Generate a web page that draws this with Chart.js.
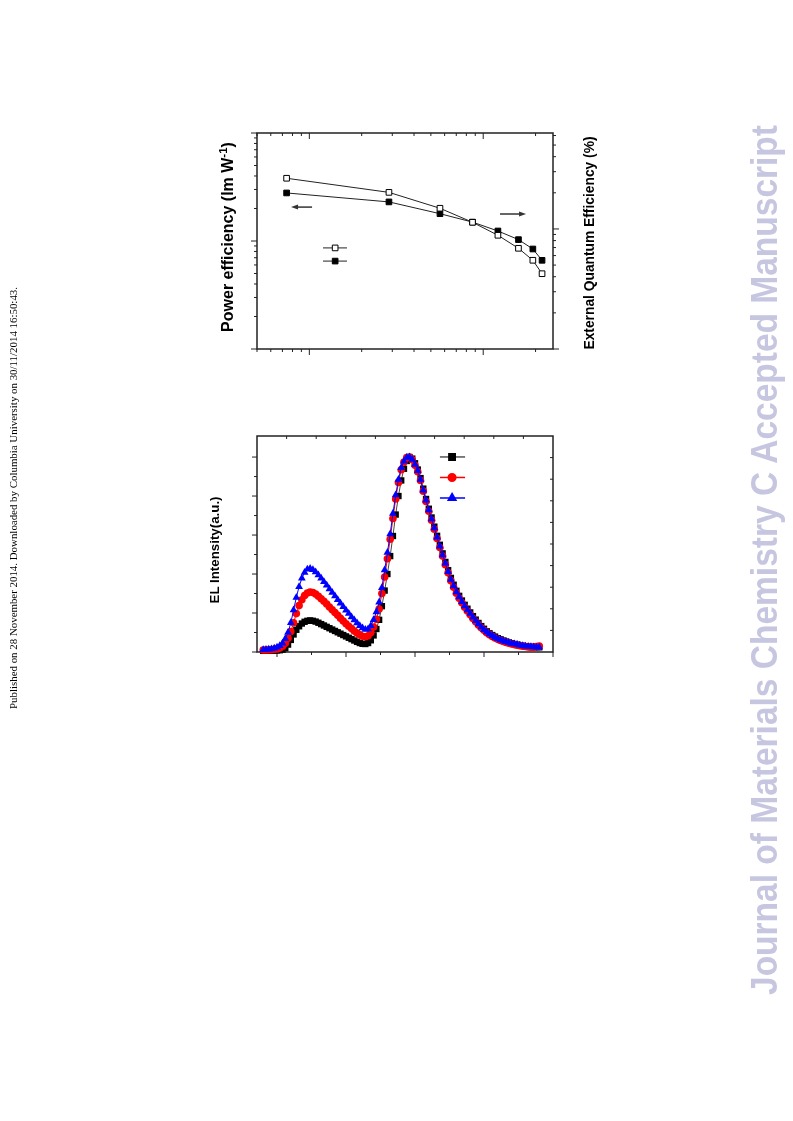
<!DOCTYPE html>
<html>
<head>
<meta charset="utf-8">
<script src="https://cdn.jsdelivr.net/npm/chart.js@4.4.1/dist/chart.umd.min.js"></script>
<style>
  html, body { margin: 0; padding: 0; background: #fff; }
  #page { position: relative; width: 793px; height: 1121px; overflow: hidden; background: #fff; }
  canvas { position: absolute; }
  #peChart { left: 200px; top: 110px; }
  #elChart { left: 200px; top: 410px; }
  svg { position: absolute; left: 0; top: 0; }
</style>
</head>
<body>
<div id="page">
  <canvas id="peChart" width="400" height="270"></canvas>
  <canvas id="elChart" width="400" height="270"></canvas>
  <svg width="793" height="1121">
    <text transform="translate(17,498) rotate(-90)" text-anchor="middle" font-family="Liberation Serif" font-size="10.5" fill="#000" textLength="422" lengthAdjust="spacingAndGlyphs">Published on 28 November 2014. Downloaded by Columbia University on 30/11/2014 16:50:43.</text>
    <text transform="translate(777,560) rotate(-90)" text-anchor="middle" font-family="Liberation Sans" font-weight="bold" font-size="36" fill="#c6c6e0" textLength="870" lengthAdjust="spacingAndGlyphs">Journal of Materials Chemistry C Accepted Manuscript</text>
    <text transform="translate(233,237) rotate(-90)" text-anchor="middle" font-family="Liberation Sans" font-weight="bold" font-size="16" fill="#000">Power efficiency (lm W<tspan dy="-6" font-size="11.5">-1</tspan><tspan dy="6">)</tspan></text>
    <text transform="translate(594,243) rotate(-90)" text-anchor="middle" font-family="Liberation Sans" font-weight="bold" font-size="14" fill="#000" textLength="213" lengthAdjust="spacingAndGlyphs">External Quantum Efficiency (%)</text>
    <text transform="translate(219,550) rotate(-90)" text-anchor="middle" font-family="Liberation Sans" font-weight="bold" font-size="13" fill="#000" textLength="107" lengthAdjust="spacingAndGlyphs">EL Intensity(a.u.)</text>
  </svg>
</div>
<script>
// ---- top chart: power efficiency / EQE (log-log) ----
const currentDensity = [7.4, 28.7, 56.4, 86.8, 121.5, 159.5, 193, 218];
const powerEff = [38.1, 28.2, 20.1, 14.9, 11.3, 8.56, 6.63, 4.98];
const eqe = [19.95, 16.8, 13.4, 11.4, 9.62, 8.15, 6.81, 5.48];

// ---- bottom chart: EL spectra ----
const wavelength = [
  380, 384, 388, 392, 396, 400, 404, 408, 412, 416,
  420, 424, 428, 432, 436, 440, 444, 448, 452, 456,
  460, 464, 468, 472, 476, 480, 484, 488, 492, 496,
  500, 504, 508, 512, 516, 520, 524, 528, 532, 536,
  540, 544, 548, 552, 556, 560, 564, 568, 572, 576,
  580, 584, 588, 592, 596, 600, 604, 608, 612, 616,
  620, 624, 628, 632, 636, 640, 644, 648, 652, 656,
  660, 664, 668, 672, 676, 680, 684, 688, 692, 696,
  700, 704, 708, 712, 716, 720, 724, 728, 732, 736,
  740, 744, 748, 752, 756, 760, 764, 768, 772, 776,
  780
];
const elBlack = [
  0.006, 0.006, 0.006, 0.007, 0.007, 0.008, 0.009, 0.012, 0.020, 0.038,
  0.062, 0.090, 0.114, 0.132, 0.146, 0.155, 0.160, 0.162, 0.160, 0.156,
  0.150, 0.143, 0.136, 0.129, 0.122, 0.115, 0.108, 0.101, 0.094, 0.087,
  0.080, 0.073, 0.066, 0.059, 0.052, 0.046, 0.042, 0.041, 0.046, 0.060,
  0.085, 0.118, 0.165, 0.235, 0.315, 0.400, 0.492, 0.595, 0.705, 0.800,
  0.880, 0.940, 0.980, 1.000, 0.992, 0.968, 0.936, 0.892, 0.838, 0.785,
  0.735, 0.690, 0.643, 0.596, 0.550, 0.506, 0.462, 0.420, 0.380, 0.345,
  0.314, 0.288, 0.264, 0.242, 0.222, 0.203, 0.184, 0.166, 0.149, 0.133,
  0.119, 0.106, 0.096, 0.087, 0.079, 0.071, 0.065, 0.059, 0.054, 0.049,
  0.045, 0.041, 0.038, 0.035, 0.032, 0.030, 0.028, 0.026, 0.025, 0.025,
  0.024
];
const elRed = [
  0.010, 0.010, 0.011, 0.012, 0.014, 0.016, 0.020, 0.030, 0.045, 0.070,
  0.105, 0.150, 0.197, 0.238, 0.268, 0.290, 0.303, 0.308, 0.305, 0.297,
  0.286, 0.273, 0.260, 0.246, 0.231, 0.217, 0.202, 0.188, 0.173, 0.159,
  0.145, 0.132, 0.120, 0.108, 0.097, 0.088, 0.081, 0.078, 0.083, 0.100,
  0.128, 0.168, 0.220, 0.300, 0.385, 0.478, 0.578, 0.685, 0.785, 0.870,
  0.935, 0.975, 0.997, 1.000, 0.986, 0.958, 0.925, 0.880, 0.825, 0.772,
  0.722, 0.676, 0.630, 0.582, 0.536, 0.492, 0.448, 0.406, 0.366, 0.332,
  0.302, 0.276, 0.252, 0.230, 0.210, 0.191, 0.172, 0.155, 0.139, 0.124,
  0.111, 0.099, 0.089, 0.080, 0.072, 0.065, 0.059, 0.054, 0.049, 0.045,
  0.041, 0.038, 0.035, 0.032, 0.030, 0.028, 0.026, 0.025, 0.025, 0.028,
  0.030
];
const elBlue = [
  0.012, 0.013, 0.014, 0.016, 0.019, 0.024, 0.032, 0.045, 0.068, 0.100,
  0.150, 0.215, 0.280, 0.335, 0.378, 0.408, 0.424, 0.428, 0.422, 0.410,
  0.395, 0.378, 0.360, 0.342, 0.323, 0.305, 0.287, 0.268, 0.250, 0.232,
  0.214, 0.197, 0.180, 0.164, 0.149, 0.135, 0.123, 0.115, 0.118, 0.135,
  0.165, 0.205, 0.255, 0.330, 0.420, 0.510, 0.605, 0.710, 0.805, 0.885,
  0.945, 0.978, 0.998, 1.000, 0.988, 0.962, 0.930, 0.885, 0.830, 0.778,
  0.728, 0.682, 0.636, 0.588, 0.542, 0.498, 0.455, 0.412, 0.372, 0.338,
  0.308, 0.282, 0.258, 0.236, 0.216, 0.197, 0.178, 0.160, 0.143, 0.128,
  0.114, 0.102, 0.092, 0.083, 0.075, 0.068, 0.062, 0.057, 0.052, 0.048,
  0.044, 0.041, 0.038, 0.035, 0.032, 0.030, 0.028, 0.027, 0.026, 0.025,
  0.024
];

// tick values for the spectrum axes
const elXMajor = [400, 500, 600, 700, 800];
const elXMinor = [450, 550, 650, 750];
const elYMajor = [0, 0.2, 0.4, 0.6, 0.8, 1.0];
const elYMinor = [0.1, 0.3, 0.5, 0.7, 0.9];
const tenSteps = [1, 2, 3, 4, 5, 6, 7, 8, 9];

function toPoints(xs, ys) {
    return xs.map((x, i) => ({ x: x, y: ys[i] }));
}

function tick(ctx, x, y, dx, dy) {
    ctx.beginPath();
    ctx.moveTo(x, y);
    ctx.lineTo(x + dx, y + dy);
    ctx.stroke();
}

// 1..9 x 10^n inside [min, max]
function logTicks(min, max) {
    const out = [];
    for (let d = Math.floor(Math.log10(min)); d <= Math.ceil(Math.log10(max)); d++) {
        for (let m = 1; m <= 9; m++) {
            const v = m * Math.pow(10, d);
            if (v >= min * 0.999 && v <= max * 1.001) out.push({ v: v, major: m === 1 });
        }
    }
    return out;
}

function marker(ctx, style, x, y, r, fill, stroke) {
    ctx.fillStyle = fill;
    ctx.strokeStyle = stroke;
    Chart.helpers.drawPoint(ctx, { pointStyle: style, radius: r, borderWidth: 1, rotation: 0 }, x, y);
}

function arrow(ctx, x1, y1, x2, y2) {
    // head at (x2, y2)
    const dir = Math.sign(x2 - x1);
    ctx.beginPath();
    ctx.moveTo(x1, y1);
    ctx.lineTo(x2 - dir * 6, y2);
    ctx.stroke();
    ctx.beginPath();
    ctx.moveTo(x2, y2);
    ctx.lineTo(x2 - dir * 7, y2 - 2.5);
    ctx.lineTo(x2 - dir * 7, y2 + 2.5);
    ctx.closePath();
    ctx.fill();
}

// frame, ticks, legend and arrows of the top chart
const peDecor = {
    id: 'peDecor',
    beforeDatasetsDraw(chart) {
        const { ctx, chartArea: a, scales } = chart;
        ctx.save();
        ctx.strokeStyle = '#222';
        ctx.lineWidth = 1.5;
        ctx.strokeRect(a.left, a.top, a.width, a.height);
        ctx.lineWidth = 1;
        logTicks(scales.x.min, scales.x.max).forEach(t => {
            const px = scales.x.getPixelForValue(t.v);
            const len = t.major ? 6 : 3;
            tick(ctx, px, a.bottom, 0, len);
            tick(ctx, px, a.top, 0, len);
        });
        logTicks(scales.y.min, scales.y.max).forEach(t => {
            tick(ctx, a.left, scales.y.getPixelForValue(t.v), t.major ? -6 : -3, 0);
        });
        logTicks(scales.y1.min, scales.y1.max).forEach(t => {
            tick(ctx, a.right, scales.y1.getPixelForValue(t.v), t.major ? 6 : 3, 0);
        });
        ctx.restore();
    },
    afterDatasetsDraw(chart) {
        const { ctx, chartArea: a } = chart;
        const fx = f => a.left + f * a.width;
        const fy = f => a.top + f * a.height;
        ctx.save();
        ctx.strokeStyle = '#222';
        ctx.fillStyle = '#222';
        ctx.lineWidth = 1;
        // legend (labels were blank in the source figure)
        [[0.532, '#fff'], [0.593, '#000']].forEach(([f, fill]) => {
            ctx.strokeStyle = '#222';
            tick(ctx, fx(0.223), fy(f), fx(0.304) - fx(0.223), 0);
            marker(ctx, 'rect', fx(0.264), fy(f), 4, fill, '#000');
        });
        ctx.strokeStyle = '#333';
        ctx.fillStyle = '#333';
        ctx.lineWidth = 1.5;
        arrow(ctx, fx(0.186), fy(0.343), fx(0.115), fy(0.343));
        arrow(ctx, fx(0.821), fy(0.375), fx(0.909), fy(0.375));
        ctx.restore();
    }
};

// frame, ticks and legend of the spectrum chart
const elDecor = {
    id: 'elDecor',
    beforeDatasetsDraw(chart) {
        const { ctx, chartArea: a, scales } = chart;
        ctx.save();
        ctx.strokeStyle = '#222';
        ctx.lineWidth = 1.5;
        ctx.strokeRect(a.left, a.top, a.width, a.height);
        ctx.lineWidth = 1;
        elXMajor.forEach(v => tick(ctx, scales.x.getPixelForValue(v), a.bottom, 0, 5));
        elXMinor.forEach(v => tick(ctx, scales.x.getPixelForValue(v), a.bottom, 0, 3));
        elYMajor.forEach(v => tick(ctx, a.left, scales.y.getPixelForValue(v), -5, 0));
        elYMinor.forEach(v => tick(ctx, a.left, scales.y.getPixelForValue(v), -3, 0));
        tenSteps.forEach(v => {
            tick(ctx, scales.x2.getPixelForValue(v), a.top, 0, 3);
            tick(ctx, a.right, scales.y2.getPixelForValue(v), -3, 0);
        });
        ctx.restore();
    },
    afterDatasetsDraw(chart) {
        const { ctx, chartArea: a } = chart;
        const fx = f => a.left + f * a.width;
        const fy = f => a.top + f * a.height;
        const entries = [
            [0.097, '#555', 'rect', '#000', 4.5],
            [0.192, '#ff0000', 'circle', '#ff0000', 3.8],
            [0.287, '#0000ff', 'triangle', '#0000ff', 4.5]
        ];
        ctx.save();
        ctx.lineWidth = 1.5;
        entries.forEach(([f, line, style, col, r]) => {
            ctx.strokeStyle = line;
            tick(ctx, fx(0.618), fy(f), fx(0.703) - fx(0.618), 0);
            marker(ctx, style, fx(0.659), fy(f), r, col, col);
        });
        ctx.restore();
    }
};

const peConfig = {
    type: 'scatter',
    data: {
        datasets: [{
            label: 'Power efficiency',
            data: toPoints(currentDensity, powerEff),
            yAxisID: 'y',
            showLine: true,
            borderColor: '#222',
            borderWidth: 1,
            pointStyle: 'rect',
            pointRadius: 4,
            pointBackgroundColor: '#fff',
            pointBorderColor: '#000',
            pointBorderWidth: 1,
            clip: false
        }, {
            label: 'EQE',
            data: toPoints(currentDensity, eqe),
            yAxisID: 'y1',
            showLine: true,
            borderColor: '#222',
            borderWidth: 1,
            pointStyle: 'rect',
            pointRadius: 4,
            pointBackgroundColor: '#000',
            pointBorderColor: '#000',
            pointBorderWidth: 1,
            clip: false
        }]
    },
    options: {
        responsive: false,
        animation: false,
        events: [],
        layout: { padding: { left: 57, right: 47, top: 23, bottom: 31 } },
        plugins: { legend: { display: false }, tooltip: { enabled: false } },
        scales: {
            x: { type: 'logarithmic', min: 5, max: 252, display: false },
            y: { type: 'logarithmic', min: 1, max: 100, display: false },
            y1: { type: 'logarithmic', min: 1, max: 63, display: false, position: 'right' }
        }
    },
    plugins: [peDecor]
};

const elConfig = {
    type: 'scatter',
    data: {
        datasets: [{
            label: 'black',
            data: toPoints(wavelength, elBlack),
            order: 3,
            showLine: true,
            borderColor: '#444',
            borderWidth: 1,
            pointStyle: 'rect',
            pointRadius: 4.5,
            pointBackgroundColor: '#000',
            pointBorderColor: '#000',
            pointBorderWidth: 0,
            clip: false
        }, {
            label: 'red',
            data: toPoints(wavelength, elRed),
            order: 2,
            showLine: true,
            borderColor: '#ff0000',
            borderWidth: 1,
            pointStyle: 'circle',
            pointRadius: 3.8,
            pointBackgroundColor: '#ff0000',
            pointBorderColor: '#ff0000',
            pointBorderWidth: 0,
            clip: false
        }, {
            label: 'blue',
            data: toPoints(wavelength, elBlue),
            order: 1,
            showLine: true,
            borderColor: '#0000ff',
            borderWidth: 1,
            pointStyle: 'triangle',
            pointRadius: 4.5,
            pointBackgroundColor: '#0000ff',
            pointBorderColor: '#0000ff',
            pointBorderWidth: 0,
            clip: false
        }]
    },
    options: {
        responsive: false,
        animation: false,
        events: [],
        layout: { padding: { left: 57, right: 47, top: 26, bottom: 28 } },
        plugins: { legend: { display: false }, tooltip: { enabled: false } },
        scales: {
            x: { type: 'linear', min: 371, max: 800, display: false },
            y: { type: 'linear', min: 0, max: 1.108, display: false },
            x2: { type: 'linear', min: 0, max: 10, display: false, position: 'top' },
            y2: { type: 'linear', min: 0, max: 10, display: false, position: 'right' }
        }
    },
    plugins: [elDecor]
};

new Chart(document.getElementById('peChart').getContext('2d'), peConfig);
new Chart(document.getElementById('elChart').getContext('2d'), elConfig);
</script>
</body>
</html>
